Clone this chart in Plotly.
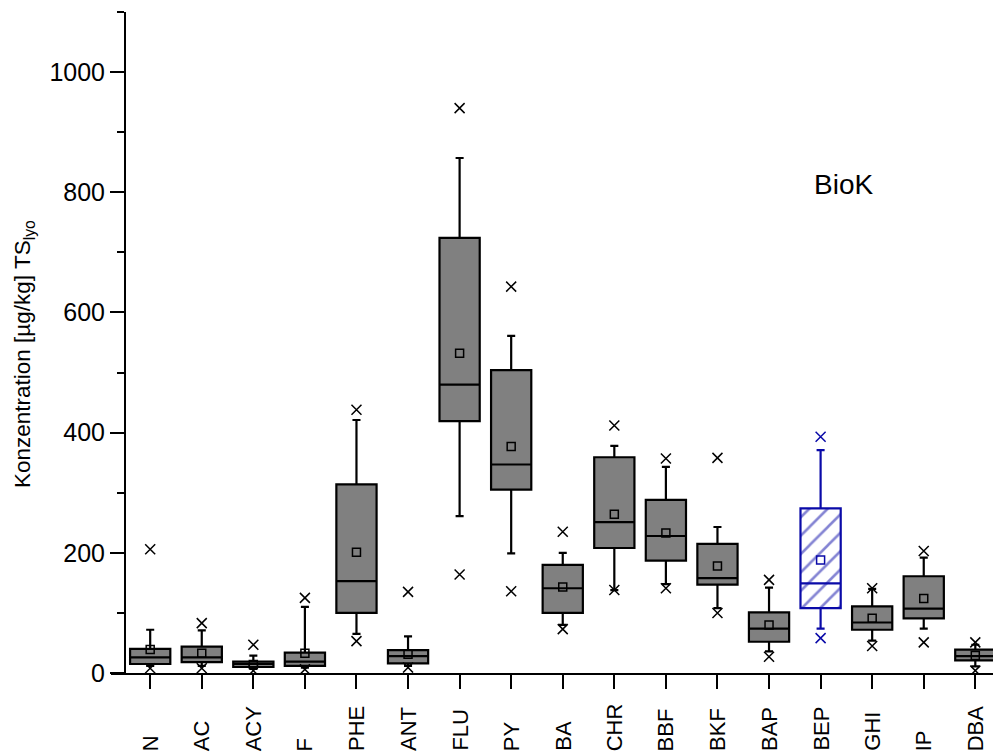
import plotly.graph_objects as go

categories = ["N", "AC", "ACY", "F", "PHE", "ANT", "FLU", "PY", "BA", "CHR",
              "BBF", "BKF", "BAP", "BEP", "GHI", "IP", "DBA"]
q1 = [15, 18, 10, 12, 100, 16, 419, 305, 100, 208, 187, 147, 52, 108, 72, 91, 21]
median = [26, 26, 15, 19, 153, 28, 480, 347, 141, 251, 228, 158, 74, 149, 84, 107, 28]
q3 = [40, 44, 19, 34, 314, 38, 724, 504, 180, 359, 288, 215, 101, 274, 111, 161, 39]
whisker_low = [12, 12, 7, 9, 65, 12, 261, 199, 80, 138, 148, 108, 36, 74, 54, 74, 11]
whisker_high = [72, 71, 29, 110, 421, 61, 857, 561, 200, 378, 343, 243, 142, 371, 140, 192, 47]
means = [39, 33, 14, 33, 201, 31, 532, 377, 143, 264, 233, 178, 80, 188, 91, 124, 29]
minima = [8, 8, 4, 6, 53, 9, 164, 136, 73, 138, 141, 100, 27, 58, 45, 51, 4]
maxima = [206, 83, 47, 125, 438, 135, 940, 643, 235, 412, 357, 358, 155, 393, 141, 203, 51]
highlight = "BEP"
panel_label = "BioK"
y_title = "Konzentration [µg/kg] TS<sub>lyo</sub>"

FONT = "Liberation Sans, Arial, sans-serif"
GRAY = "#808080"
BLUE = "#0a0aa8"

W, H = 993, 756
ML, MR, MT, MB = 111, 0, 12, 83
PW = W - ML - MR
PH = H - MT - MB

norm = [i for i, c in enumerate(categories) if c != highlight]
hi = [i for i, c in enumerate(categories) if c == highlight]

def pick(arr, idx):
    return [arr[i] for i in idx]

fig = go.Figure()

# hatched fill for highlighted box
fig.add_trace(go.Bar(
    x=pick(categories, hi),
    y=[q3[i] - q1[i] for i in hi],
    base=pick(q1, hi),
    width=0.78,
    marker=dict(color="white",
                pattern=dict(shape="/", fgcolor=BLUE, bgcolor="white", size=13, solidity=0.2),
                line=dict(width=0)),
    showlegend=False, hoverinfo="skip",
))

for idx, fill, col in [(norm, GRAY, "black"), (hi, "rgba(0,0,0,0)", BLUE)]:
    fig.add_trace(go.Box(
        x=pick(categories, idx),
        q1=pick(q1, idx), median=pick(median, idx), q3=pick(q3, idx),
        lowerfence=pick(whisker_low, idx), upperfence=pick(whisker_high, idx),
        fillcolor=fill, line=dict(color=col, width=2.2),
        width=0.78, whiskerwidth=0.2, boxpoints=False,
        showlegend=False,
    ))
    fig.add_trace(go.Scatter(
        x=pick(categories, idx), y=pick(means, idx), mode="markers",
        marker=dict(symbol="square-open", size=8, color=col, line=dict(width=1.5, color=col)),
        showlegend=False,
    ))
    fig.add_trace(go.Scatter(
        x=pick(categories, idx) * 2, y=pick(minima, idx) + pick(maxima, idx), mode="markers",
        marker=dict(symbol="x-thin-open", size=10, color=col, line=dict(width=1.5, color=col)),
        showlegend=False,
    ))

def px_to_paper_x(px):
    return (px - ML) / PW

def px_to_paper_y(py):
    return (H - MB - py) / PH

x0 = -0.760
x1 = 16.343

annotations = []
for c in categories:
    annotations.append(dict(
        x=c, xref="x", y=px_to_paper_y(753), yref="paper",
        text=c, textangle=-90, showarrow=False,
        xanchor="center", yanchor="bottom",
        font=dict(family=FONT, size=22, color="black"),
    ))
annotations.append(dict(
    x=px_to_paper_x(24), xref="paper", y=px_to_paper_y(354), yref="paper",
    text=y_title, textangle=-90, showarrow=False,
    xanchor="center", yanchor="middle",
    font=dict(family=FONT, size=22.5, color="black"),
))
annotations.append(dict(
    x=px_to_paper_x(843), xref="paper", y=px_to_paper_y(184), yref="paper",
    text=panel_label, showarrow=False, xanchor="center", yanchor="middle",
    font=dict(family=FONT, size=28, color="black"),
))

fig.update_layout(
    width=W, height=H,
    margin=dict(l=ML, r=MR, t=MT, b=MB, pad=0),
    paper_bgcolor="white", plot_bgcolor="white",
    boxmode="overlay", barmode="overlay",
    font=dict(family=FONT, color="black"),
    annotations=annotations,
    xaxis=dict(
        type="category", categoryorder="array", categoryarray=categories,
        range=[x0, x1], showgrid=False, zeroline=False,
        showline=True, linecolor="black", linewidth=2,
        ticks="outside", ticklen=14, tickwidth=2, tickcolor="black",
        showticklabels=False,
    ),
    yaxis=dict(
        range=[0, 1100], anchor="free", position=px_to_paper_x(125),
        showgrid=False, zeroline=False,
        showline=True, linecolor="black", linewidth=2,
        ticks="outside", ticklen=14, tickwidth=2, tickcolor="black",
        tickvals=[0, 200, 400, 600, 800, 1000],
        tickfont=dict(family=FONT, size=25, color="black"),
        minor=dict(tickvals=[100, 300, 500, 700, 900, 1100], ticks="outside",
                   ticklen=7, tickwidth=2, tickcolor="black"),
    ),
)

fig.write_html("out.html")
